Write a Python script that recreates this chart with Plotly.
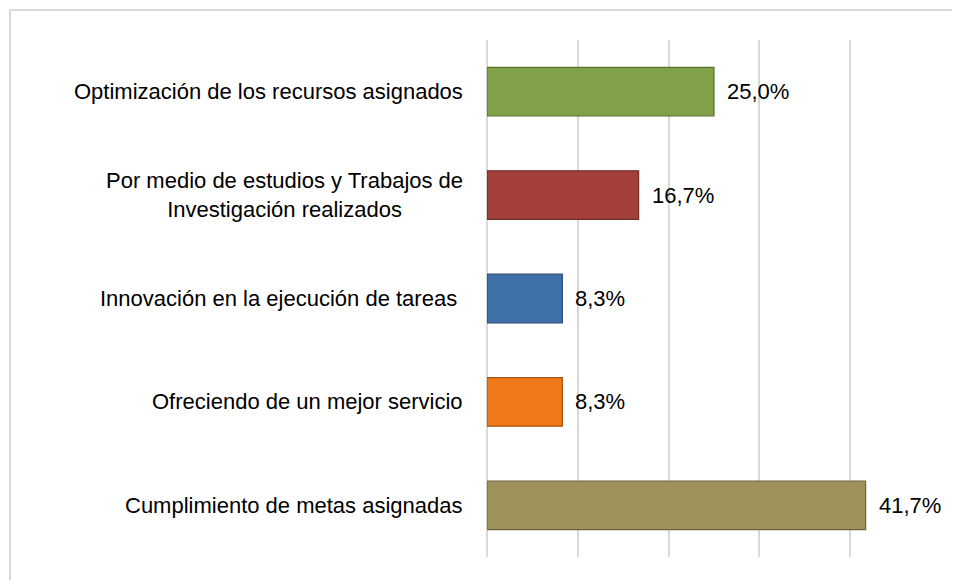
import plotly.graph_objects as go

categories = [
    "Cumplimiento de metas asignadas",
    "Ofreciendo de un mejor servicio",
    "Innovación en la ejecución de tareas ",
    "Por medio de estudios y Trabajos de<br>Investigación realizados",
    "Optimización de los recursos asignados",
]
values = [41.7, 8.3, 8.3, 16.7, 25.0]
value_labels = ["41,7%", "8,3%", "8,3%", "16,7%", "25,0%"]
colors = ["#9E915C", "#F07818", "#4070A8", "#A4403C", "#82A047"]
edge_colors = ["#6E6540", "#A85410", "#2C4E78", "#722C2A", "#5A7030"]

# page shows the figure offset by 8px (body margin)
OFF = 8
W, H = 960 - OFF, 580 - OFF
ML, MT = 487 - OFF, 40 - OFF
pw, ph = 454, 517
MR, MB = W - ML - pw, H - MT - ph

FONT = "Liberation Sans, Arial"
FS = 22

fig = go.Figure()
fig.add_trace(go.Bar(
    y=categories, x=values, orientation="h",
    marker=dict(color=colors, line=dict(color=edge_colors, width=1.2)),
    width=0.47, hoverinfo="skip",
))

ann = []
for c, v, t in zip(categories, values, value_labels):
    ann.append(dict(x=v, y=c, xref="x", yref="y", text=t, showarrow=False,
                    xanchor="left", xshift=11,
                    font=dict(size=FS, color="#000000", family=FONT)))
    ann.append(dict(x=0, y=c, xref="x", yref="y", text=c, showarrow=False,
                    xanchor="right", xshift=-22, align="center",
                    font=dict(size=FS, color="#000000", family=FONT)))

# outer chart border (top and left visible)
bx = (10 - OFF - ML) / pw
by = 1 + (MT - (10 - OFF)) / ph
shapes = [
    dict(type="line", xref="paper", yref="paper", x0=bx, x1=bx, y0=by, y1=-0.2,
         line=dict(color="#D9D9D9", width=2)),
    dict(type="line", xref="paper", yref="paper", x0=bx, x1=1.2, y0=by, y1=by,
         line=dict(color="#D9D9D9", width=2)),
]

fig.update_layout(
    width=W, height=H,
    margin=dict(l=ML, r=MR, t=MT, b=MB),
    paper_bgcolor="white", plot_bgcolor="white",
    showlegend=False,
    annotations=ann, shapes=shapes,
    xaxis=dict(range=[0, 50], dtick=10, showticklabels=False, showgrid=True,
               gridcolor="#D9D9D9", gridwidth=1.5, zeroline=True,
               zerolinecolor="#D9D9D9", zerolinewidth=1.5, showline=False, fixedrange=True),
    yaxis=dict(showticklabels=False, showgrid=False, zeroline=False, showline=False,
               range=[-0.5, 4.5], fixedrange=True),
    font=dict(family=FONT, size=FS, color="#000000"),
)

fig.write_html("out.html")
